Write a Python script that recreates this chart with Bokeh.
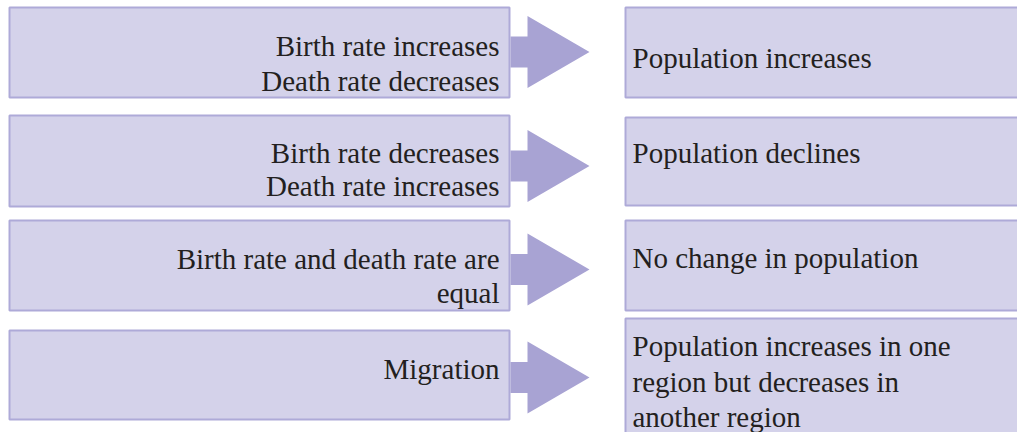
from bokeh.plotting import figure
from bokeh.models import Range1d
from bokeh.core.properties import value
from bokeh.embed import file_html
from bokeh.resources import INLINE

# ---- content ----
left_labels = [
    ["Birth rate increases", "Death rate decreases"],
    ["Birth rate decreases", "Death rate increases"],
    ["Birth rate and death rate are", "equal"],
    ["Migration"],
]
right_labels = [
    ["Population increases"],
    ["Population declines"],
    ["No change in population"],
    ["Population increases in one", "region but decreases in", "another region"],
]

# ---- layout (image pixel coordinates) ----
left_box_x = (9, 509)
right_box_x = (625, 1030)
left_box_y = [(7, 97), (115, 206), (220, 310), (330, 419)]
right_box_y = [(7, 97), (117, 205), (220, 310), (318, 440)]
arrow_c = [51.5, 165.5, 269, 377]
left_baselines = [[45, 80], [152, 185], [258, 292], [368]]
right_baselines = [[57], [152], [257], [345, 381, 416]]

FILL = "#d4d2ea"
BORDER = "#aeaad8"
ARROW = "#a8a3d3"
TEXT = "#231f20"
FONT = value("Liberation Serif")
FSIZE = "29px"

p = figure(width=1017, height=432, output_backend="svg", toolbar_location=None,
           x_range=Range1d(0, 1017), y_range=Range1d(432, 0),
           min_border=0, background_fill_color="white", border_fill_color="white")
p.axis.visible = False
p.grid.visible = False
p.outline_line_color = None

# boxes
for (y0, y1) in left_box_y:
    p.quad(left=left_box_x[0], right=left_box_x[1], top=y0, bottom=y1,
           fill_color=FILL, line_color=BORDER, line_width=2)
for (y0, y1) in right_box_y:
    p.quad(left=right_box_x[0], right=right_box_x[1], top=y0, bottom=y1,
           fill_color=FILL, line_color=BORDER, line_width=2)

# arrows
xs, ys = [], []
for c in arrow_c:
    xs.append([510, 527, 527, 589, 527, 527, 510])
    ys.append([c - 15.5, c - 15.5, c - 36, c, c + 36, c + 15.5, c + 15.5])
p.patches(xs, ys, fill_color=ARROW, line_color=None)

# texts
for lines, bls in zip(left_labels, left_baselines):
    for t, b in zip(lines, bls):
        p.text(x=[499], y=[b], text=[t], text_align="right", text_baseline="alphabetic",
               text_font=FONT, text_font_size=FSIZE, text_color=TEXT)
for lines, bls in zip(right_labels, right_baselines):
    for t, b in zip(lines, bls):
        p.text(x=[632], y=[b], text=[t], text_align="left", text_baseline="alphabetic",
               text_font=FONT, text_font_size=FSIZE, text_color=TEXT)

open("out.html", "w").write(file_html(p, INLINE))
